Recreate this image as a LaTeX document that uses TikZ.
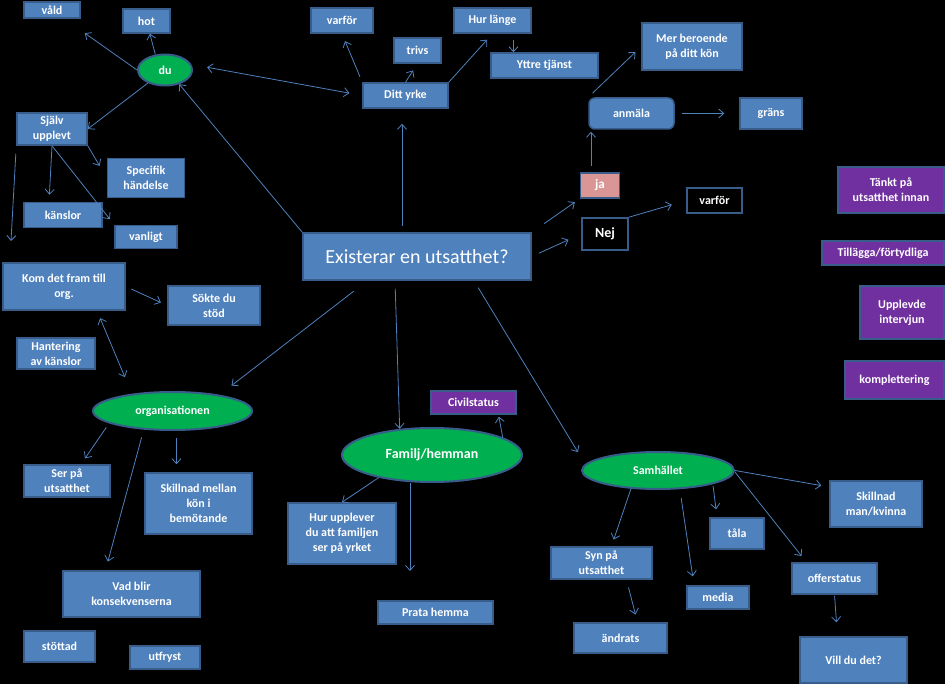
\documentclass[tikz,border=0pt]{standalone}
\usepackage{fontspec}
\setmainfont{Carlito}
\usetikzlibrary{shapes.geometric,arrows.meta}

\definecolor{blaa}{RGB}{79,129,189}
\definecolor{kant}{RGB}{56,93,138}
\definecolor{groen}{RGB}{0,176,80}
\definecolor{violett}{RGB}{112,48,160}
\definecolor{rosa}{RGB}{217,150,148}
\definecolor{pilfarg}{RGB}{79,129,189}

\begin{document}
\begin{tikzpicture}
    [
    x=1pt, y=-1pt, font=\bfseries\fontsize{12}{15}\selectfont,
    >={Straight Barb[length=5pt,width=9pt]},
    %Grundstilar
    ruta/.style={draw=kant, fill=blaa, line width=1.5pt, text=white, align=center, inner sep=1pt},
    lila/.style={ruta, fill=violett},
    svart/.style={ruta, fill=black},
    oval/.style={ellipse, draw=kant, fill=groen, line width=2pt, text=white, inner sep=0pt},
    pil/.style={->, draw=pilfarg, line width=0.8pt}
    ]

    %Bakgrund
    \fill[black] (0,0) rectangle (945,684);

    %Mitten
    \node[ruta, minimum width=228, minimum height=47, font=\mdseries\fontsize{20}{22}\selectfont] (exist) at (417,256.5) {Existerar en utsatthet?};

    %du
    \node[oval, minimum width=54, minimum height=31] (du) at (165,70) {du};
    \node[ruta, minimum width=56, minimum height=16] (vald) at (52,10) {våld};
    \node[ruta, minimum width=47, minimum height=24] (hot) at (146.5,21) {hot};
    \node[ruta, minimum width=70, minimum height=32] (sjalv) at (52,129) {Själv\\upplevt};
    \node[ruta, minimum width=77, minimum height=39] (spec) at (146,178) {Specifik\\händelse};
    \node[ruta, minimum width=78, minimum height=25] (kanslor) at (63,215) {känslor};
    \node[ruta, minimum width=62, minimum height=23] (vanligt) at (146,237) {vanligt};
    \coordinate (sjalvfri) at (11,241);

    %Ditt yrke
    \node[ruta, minimum width=85, minimum height=25] (yrke) at (405.5,95.5) {Ditt yrke};
    \node[ruta, minimum width=62, minimum height=25] (varfor) at (342,20.5) {varför};
    \node[ruta, minimum width=47, minimum height=25] (trivs) at (417.5,50.5) {trivs};
    \node[ruta, minimum width=77, minimum height=25] (hurlange) at (492.5,20.5) {Hur länge};
    \node[ruta, minimum width=107, minimum height=25] (yttre) at (544.5,65.5) {Yttre tjänst};

    %ja / nej
    \node[ruta, fill=rosa, minimum width=39, minimum height=25, font=\bfseries\fontsize{13}{15}\selectfont] (ja) at (600,185.5) {ja};
    \node[svart, minimum width=46, minimum height=32, font=\bfseries\fontsize{14}{16}\selectfont] (nej) at (605,234) {Nej};
    \node[svart, minimum width=55, minimum height=25] (varfornej) at (714.5,200.5) {varför};
    \node[ruta, rounded corners=6pt, minimum width=85, minimum height=31] (anmala) at (631.5,113.5) {anmäla};
    \node[ruta, minimum width=100, minimum height=47] (mer) at (692,46.5) {Mer beroende\\på ditt kön};
    \node[ruta, minimum width=62, minimum height=31] (grans) at (771,113.5) {gräns};

    %Tillägg
    \node[lila, minimum width=106, minimum height=46] (tankt) at (891,190) {Tänkt på\\utsatthet innan};
    \node[lila, minimum width=122, minimum height=24] (tillagga) at (883,253) {Tillägga/förtydliga};
    \node[lila, minimum width=84, minimum height=53] (upplevde) at (902,312.5) {Upplevde\\intervjun};
    \node[lila, minimum width=99, minimum height=38] (kompl) at (894.5,380) {komplettering};

    %Organisationen
    \node[oval, minimum width=159, minimum height=38] (org) at (172.5,411) {organisationen};
    \node[ruta, minimum width=122, minimum height=47] (kom) at (64,286.5) {Kom det fram till\\org.};
    \node[ruta, minimum width=92, minimum height=39] (sokte) at (214,305.5) {Sökte du\\stöd};
    \node[ruta, minimum width=78, minimum height=31] (hantering) at (56,353.5) {Hantering\\av känslor};
    \node[ruta, minimum width=86, minimum height=32] (serpa) at (67,481) {Ser på\\utsatthet};
    \node[ruta, minimum width=107, minimum height=61] (skmellan) at (198.5,503.5) {Skillnad mellan\\kön i\\bemötande};
    \node[ruta, minimum width=137, minimum height=46] (vadblir) at (131.5,594) {Vad blir\\konsekvenserna};
    \node[ruta, minimum width=71, minimum height=31] (stottad) at (59.5,646.5) {stöttad};
    \node[ruta, minimum width=70, minimum height=23] (utfryst) at (165,657.5) {utfryst};

    %Familj
    \node[oval, minimum width=180, minimum height=54, font=\bfseries\fontsize{14}{16}\selectfont] (familj) at (432,455) {Familj/hemman};
    \node[lila, minimum width=85, minimum height=23] (civil) at (473.5,402.5) {Civilstatus};
    \node[ruta, minimum width=108, minimum height=61] (hurupp) at (342,533.5) {Hur upplever\\du att familjen\\ser på yrket};
    \node[ruta, minimum width=115, minimum height=23] (prata) at (435.5,612.5) {Prata hemma};
    \coordinate (familjfri) at (410,571);

    %Samhället
    \node[oval, minimum width=152, minimum height=37] (samh) at (658,470.5) {Samhället};
    \node[ruta, minimum width=92, minimum height=46] (skmk) at (876,504) {Skillnad\\man/kvinna};
    \node[ruta, minimum width=54, minimum height=31] (tala) at (737,533.5) {tåla};
    \node[ruta, minimum width=101, minimum height=32] (synpa) at (601.5,563) {Syn på\\utsatthet};
    \node[ruta, minimum width=62, minimum height=23] (media) at (718,597.5) {media};
    \node[ruta, minimum width=85, minimum height=31] (offer) at (834.5,578.5) {offerstatus};
    \node[ruta, minimum width=93, minimum height=30] (andrats) at (620.5,638) {ändrats};
    \node[ruta, minimum width=107, minimum height=46] (vill) at (853.5,660) {Vill du det?};

    %Pilar du
    \draw[pil, shorten >=25pt] (du.west) -- (vald);
    \draw[pil] (du.122) -- (hot);
    \draw[pil, <->, shorten <=16pt, shorten >=13pt] (du.12) -- (yrke.west);
    \draw[pil] (du) -- (sjalv.east);
    \draw[pil] (exist.north west) -- (du.-45);
    \draw[pil, shorten <=8pt] (sjalv.south west) -- (sjalvfri);
    \draw[pil, shorten >=14pt] (sjalv.south east) -- (spec.west);
    \draw[pil, shorten >=7pt] (sjalv.south) -- ([xshift=-14pt]kanslor.north);
    \draw[pil, shorten >=7pt] (sjalv.south) -- (vanligt.north west);

    %Pilar Ditt yrke
    \draw[pil, shorten <=6pt, shorten >=8pt] (yrke.north west) -- (varfor.south);
    \draw[pil, shorten >=8pt] (yrke.north) -- (trivs.south);
    \draw[pil, shorten >=8pt] (yrke.north east) -- (hurlange.south);
    \draw[pil, shorten <=6pt] ([xshift=21pt]hurlange.south) -- ([xshift=21pt]hurlange.south |- yttre.north);
    \draw[pil, shorten <=6pt, shorten >=15pt] ([xshift=-15pt]exist.north) -- ([xshift=-15pt]exist.north |- yrke.south);

    %Pilar ja / nej
    \draw[pil, shorten <=15pt, shorten >=6pt] (exist.north east) -- (ja.south west);
    \draw[pil, shorten <=8pt, shorten >=14pt] (exist.east) -- (nej.west);
    \draw[pil, shorten <=6pt, shorten >=2pt] ([xshift=-9pt]ja.north) -- ([xshift=-9pt]ja.north |- anmala.south);
    \draw[pil, shorten <=6pt, shorten >=8pt] (anmala.north west) -- (mer.west);
    \draw[pil, shorten <=7pt, shorten >=15pt] (anmala.east) -- (grans.west);
    \draw[pil, shorten >=15pt] (nej.north east) -- (varfornej.west);

    %Pilar organisationen
    \draw[pil, shorten <=6pt, shorten >=7pt] (kom.east) -- (sokte.west);
    \draw[pil, <->, shorten <=8pt, shorten >=18pt] ([xshift=33pt]kom.south) -- (org.157);
    \draw[pil, shorten <=17pt, shorten >=15pt] ([xshift=65pt]exist.south west) -- (org.19);
    \draw[pil, shorten <=5pt, shorten >=7pt] (org.191) -- ([xshift=14pt]serpa.north);
    \draw[pil, shorten <=7pt, shorten >=8pt] ([xshift=4pt]org.south) -- ([xshift=4pt]org.south |- skmellan.north);
    \draw[pil, shorten <=8pt, shorten >=9pt] (org.213) -- ([xshift=-26pt]vadblir.north);

    %Pilar Familj
    \draw[pil, shorten <=8pt] ([xshift=-22pt]exist.south) -- (familj.141);
    \draw[pil, shorten >=2pt] (familj.14) -- ([xshift=25pt]civil.south);
    \draw[pil] (familj.203) -- (hurupp.north);
    \draw[pil] ([xshift=-22pt]familj.south) -- (familjfri);

    %Pilar Samhället
    \draw[pil, shorten <=8pt, shorten >=14pt] ([xshift=57pt]exist.south) -- (samh.175);
    \draw[pil, shorten >=7pt] (samh.214) -- ([xshift=10pt]synpa.north);
    \draw[pil, shorten <=8pt, shorten >=9pt] ([xshift=22pt]samh.south) -- ([xshift=-24pt]media.north);
    \draw[pil, shorten <=2pt, shorten >=8pt] (samh.-14) -- ([xshift=-20pt]tala.north);
    \draw[pil, shorten >=8pt] (samh.east) -- (skmk.160);
    \draw[pil, shorten >=8pt] (samh.-1) -- ([xshift=-28pt]offer.north);
    \draw[pil, shorten <=8pt, shorten >=8pt] ([xshift=25pt]synpa.south) -- ([xshift=17pt]andrats.north);
    \draw[pil, shorten <=1pt, shorten >=14pt] (offer.south) -- ([xshift=-16pt]vill.north);
\end{tikzpicture}
\end{document}
